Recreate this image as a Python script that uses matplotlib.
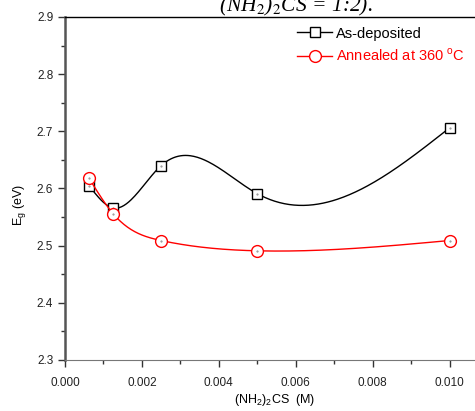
"""Band gap vs thiourea concentration, as-deposited and annealed films."""

import numpy as np
import matplotlib

matplotlib.use("Agg")
import matplotlib.pyplot as plt
from matplotlib.ticker import MultipleLocator

plt.rcParams["font.family"] = ["Liberation Sans", "DejaVu Sans"]
plt.rcParams["mathtext.fontset"] = "custom"
plt.rcParams["mathtext.rm"] = "Liberation Sans"

conc = [0.000625, 0.00125, 0.0025, 0.005, 0.010]
eg_as_deposited = [2.605, 2.566, 2.640, 2.591, 2.706]
eg_annealed = [2.618, 2.556, 2.509, 2.491, 2.509]
series_labels = ["As-deposited", "Annealed at 360 $^{\\rm o}$C"]
x_ticks = [0.000, 0.002, 0.004, 0.006, 0.008, 0.010]
y_ticks = [2.3, 2.4, 2.5, 2.6, 2.7, 2.8, 2.9]


def natural_spline(x, y, num=300):
    # plain natural cubic spline, like Origin's "Spline" connect
    x = np.asarray(x, float)
    y = np.asarray(y, float)
    n = len(x)
    h = np.diff(x)
    a = np.zeros((n, n))
    b = np.zeros(n)
    a[0, 0] = a[-1, -1] = 1.0
    for i in range(1, n - 1):
        a[i, i - 1] = h[i - 1]
        a[i, i] = 2 * (h[i - 1] + h[i])
        a[i, i + 1] = h[i]
        b[i] = 3 * ((y[i + 1] - y[i]) / h[i] - (y[i] - y[i - 1]) / h[i - 1])
    c = np.linalg.solve(a, b)
    xs = np.linspace(x[0], x[-1], num)
    idx = np.clip(np.searchsorted(x, xs) - 1, 0, n - 2)
    dx = xs - x[idx]
    bb = (y[idx + 1] - y[idx]) / h[idx] - h[idx] * (2 * c[idx] + c[idx + 1]) / 3
    dd = (c[idx + 1] - c[idx]) / (3 * h[idx])
    return xs, y[idx] + bb * dx + c[idx] * dx**2 + dd * dx**3


fig = plt.figure(figsize=(4.75, 4.11), dpi=100)
ax = fig.add_axes([65 / 475, 1 - 360 / 411, 410 / 475, 343 / 411])

styles = [("black", "s", 7.5), ("red", "o", 8.5)]
for values, label, (color, marker, size) in zip(
    [eg_as_deposited, eg_annealed], series_labels, styles
):
    xs, ys = natural_spline(conc, values)
    ax.plot(xs, ys, color=color, lw=1.0)
    ax.plot(conc, values, ls="none", marker=marker, ms=size, mfc="white",
            mec=color, mew=1.0)
    ax.plot(conc, values, ls="none", marker=".", ms=1, color="#888888")
    ax.plot([], [], color=color, lw=1.0, marker=marker, ms=size, mfc="white",
            mec=color, mew=1.0, label=label)

ax.set_xlim(0, 410 / 38450)
ax.set_ylim(2.3, 2.9)
ax.set_xticks(x_ticks)
ax.set_xticklabels([f"{t:.3f}" for t in x_ticks])
ax.set_yticks(y_ticks)
ax.set_yticklabels([f"{t:.1f}" for t in y_ticks])
ax.xaxis.set_minor_locator(MultipleLocator(0.001))
ax.yaxis.set_minor_locator(MultipleLocator(0.05))
ax.tick_params(which="major", direction="out", length=5, width=1,
               labelsize=8.5, colors="#333333", labelcolor="#222222")
ax.tick_params(which="minor", direction="out", length=3, width=1,
               colors="#333333")
ax.tick_params(axis="x", pad=7)
ax.spines["right"].set_visible(False)
ax.spines["left"].set_linewidth(1.8)
ax.spines["left"].set_color("#555555")
ax.spines["bottom"].set_color("#777777")
ax.spines["top"].set_linewidth(1.0)

ax.set_xlabel("(NH$_2$)$_2$CS  (M)", fontsize=9)
ax.xaxis.set_label_coords(0.512, -0.093)
ax.set_ylabel("E$_{\\rm g}$ (eV)", fontsize=9)
ax.yaxis.set_label_coords(-0.09, 0.452)

leg = ax.legend(loc="upper left", bbox_to_anchor=(0.566, 0.972),
                frameon=False, fontsize=10.5, handlelength=2.4,
                handletextpad=0.25, labelspacing=0.45, borderpad=0,
                borderaxespad=0)
for text, (color, _, _) in zip(leg.get_texts(), styles):
    text.set_color(color)

fig.text(296 / 475, 1 - 11 / 411, "(NH$_2$)$_2$CS = 1:2).", ha="center",
         va="baseline", fontsize=15.5, family="Liberation Serif",
         style="italic", math_fontfamily="stix")

fig.savefig("out.png", dpi=100)
